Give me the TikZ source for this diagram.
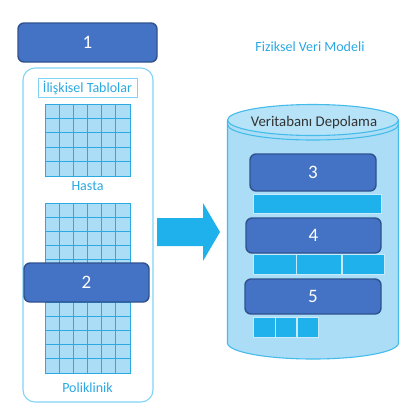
\documentclass[tikz,border=0pt]{standalone}
\usepackage{fontspec}
\setmainfont{Carlito}
\usetikzlibrary{positioning}
\definecolor{darkblue}{HTML}{4472C4}
\definecolor{edgeblue}{HTML}{2F528F}
\definecolor{skyblue}{HTML}{1FB1EB}
\definecolor{paleblue}{HTML}{ABDEF6}
\definecolor{toppale}{HTML}{B6E3F8}
\definecolor{lineblue}{HTML}{2BAAE1}
\definecolor{frameblue}{HTML}{7FD3F7}
\definecolor{textblue}{HTML}{2AA8E2}
\definecolor{cylblue}{HTML}{45BBEA}

\begin{document}
\begin{tikzpicture}[
    x=1pt, y=-1pt,
    numbox/.style={rectangle, draw=edgeblue, line width=1.4pt, fill=darkblue, rounded corners=6pt, text=white, inner sep=0pt, font=\fontsize{19}{19}\selectfont},
    bar/.style={rectangle, draw=white!75!skyblue, line width=0.6pt, fill=skyblue, inner sep=0pt, minimum height=20pt},
    tabname/.style={inner sep=0pt, text=textblue, font=\fontsize{14}{15}\selectfont},
    tablegrid/.style={rectangle, draw=lineblue, line width=0.9pt, fill=paleblue, inner sep=0pt},
    gridline/.style={draw=lineblue, line width=0.8pt},
    cylline/.style={draw=cylblue, line width=1.1pt},
]
\useasboundingbox (0,0) rectangle (419,416);

% left side: relational tables
\draw [draw=frameblue, line width=1.1pt, rounded corners=12pt] (23,68) rectangle (153,402);
\node [tabname, draw=frameblue, line width=0.9pt, minimum width=99pt, minimum height=19pt] (tables) at (87.5,87.5) {İlişkisel Tablolar};

\node [tablegrid, minimum width=85pt, minimum height=72pt] (hastagrid) at (87.5,140) {};
\foreach \i in {1,...,5} \draw [gridline] ({45+\i*85/6},104) -- ++(0,72);
\foreach \j in {1,...,4} \draw [gridline] (45,{104+\j*14.4}) -- ++(85,0);
\node [tabname] (hasta) at (87.5,186) {Hasta};

\node [tablegrid, minimum width=85pt, minimum height=170pt] (poligrid) at (87.5,288) {};
\foreach \i in {1,...,5} \draw [gridline] ({45+\i*85/6},203) -- ++(0,170);
\foreach \j in {1,...,11} \draw [gridline] (45,{203+\j*170/12}) -- ++(85,0);
\node [tabname] (poliklinik) at (87.5,388) {Poliklinik};

\node [numbox, minimum width=139pt, minimum height=39pt] (box1) at (87.5,42.5) {1};
\node [numbox, minimum width=125pt, minimum height=39pt] (box2) at (86.5,282.5) {2};

% block arrow
\fill [skyblue] (157,218) -- (203,218) -- (203,203) -- (220,232) -- (203,261) -- (203,246) -- (157,246) -- cycle;

% right side: database storage
\node [tabname] (title) at (310,47) {Fiziksel Veri Modeli};

\fill [paleblue] (227.5,120) -- (227.5,343) arc [start angle=180, end angle=0, x radius=85.5, y radius=16] -- (398.5,120) -- cycle;
\draw [cylline] (227.5,120) -- (227.5,343) arc [start angle=180, end angle=0, x radius=85.5, y radius=16] -- (398.5,120);
\draw [cylline, fill=toppale] (313,120) ellipse [x radius=85.5, y radius=15.5];
\draw [cylline] (227.5,124.5) arc [start angle=180, end angle=0, x radius=85.5, y radius=15.5];
\node [inner sep=0pt, text=black!80, font=\fontsize{14.8}{16}\selectfont] (storage) at (314,123) {Veritabanı Depolama};

\node [numbox, minimum width=126pt, minimum height=37pt] (box3) at (313,172.5) {3};
\node [bar, minimum width=128pt, minimum height=19pt] (bar3) at (317,203.5) {};

\node [numbox, minimum width=135pt, minimum height=35pt] (box4) at (313.5,235.5) {4};
\node [bar, minimum width=43pt] (cell4a) at (274.5,264) {};
\node [bar, minimum width=45pt, right=0pt of cell4a] (cell4b) {};
\node [bar, minimum width=42pt, right=0pt of cell4b] (cell4c) {};

\node [numbox, minimum width=136pt, minimum height=35pt] (box5) at (313,296.5) {5};
\node [bar, minimum width=22pt] (cell5a) at (264,327) {};
\node [bar, minimum width=21pt, right=0pt of cell5a] (cell5b) {};
\node [bar, minimum width=21pt, right=0pt of cell5b] (cell5c) {};
\end{tikzpicture}
\end{document}
